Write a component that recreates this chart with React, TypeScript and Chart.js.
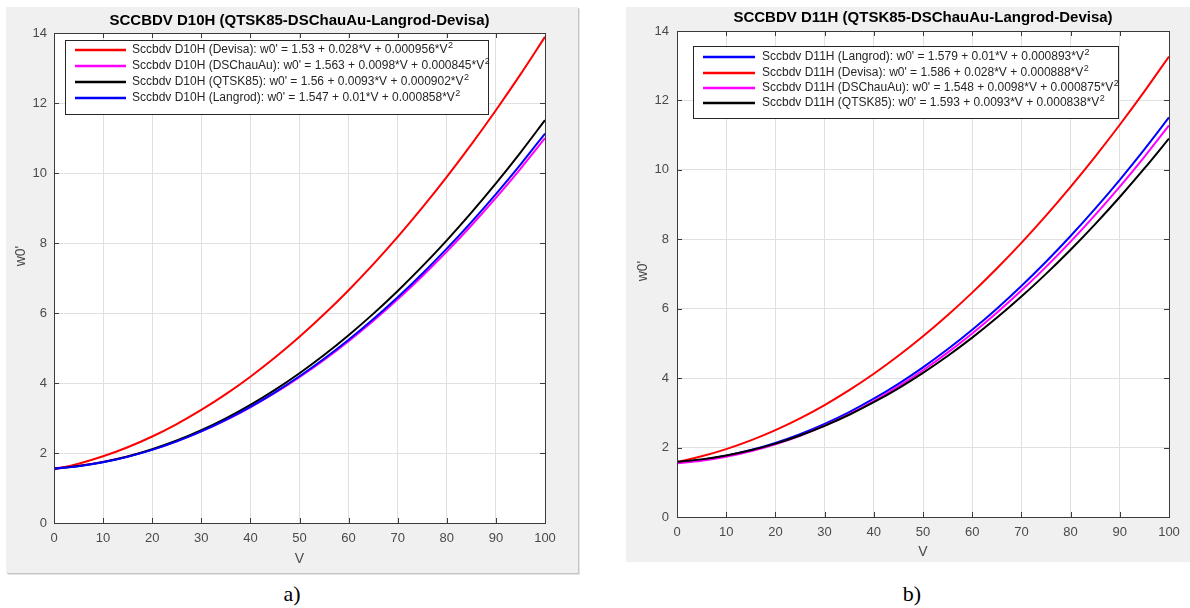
import React, { useEffect, useRef } from "react";
import { Chart, registerables } from "chart.js";

Chart.register(...registerables);

// ---------------- data ----------------
const V_VALUES = [0, 5, 10, 15, 20, 25, 30, 35, 40, 45, 50, 55, 60, 65, 70, 75, 80, 85, 90, 95, 100];
const X_TICKS = [0, 10, 20, 30, 40, 50, 60, 70, 80, 90, 100];
const Y_TICKS = [0, 2, 4, 6, 8, 10, 12, 14];

const D10H_DEVISA = [1.53, 1.694, 1.906, 2.165, 2.472, 2.828, 3.23, 3.681, 4.18, 4.726, 5.32, 5.962, 6.652, 7.389, 8.174, 9.008, 9.888, 10.817, 11.794, 12.818, 13.89];
const D10H_DSCHAUAU = [1.563, 1.633, 1.746, 1.9, 2.097, 2.336, 2.618, 2.941, 3.307, 3.715, 4.166, 4.658, 5.193, 5.77, 6.39, 7.051, 7.755, 8.501, 9.29, 10.12, 10.993];
const D10H_QTSK85 = [1.56, 1.629, 1.743, 1.902, 2.107, 2.356, 2.651, 2.99, 3.375, 3.805, 4.28, 4.8, 5.365, 5.975, 6.631, 7.331, 8.077, 8.867, 9.703, 10.584, 11.51];
const D10H_LANGROD = [1.547, 1.618, 1.733, 1.89, 2.09, 2.333, 2.619, 2.948, 3.32, 3.734, 4.192, 4.692, 5.236, 5.822, 6.451, 7.123, 7.838, 8.596, 9.397, 10.24, 11.127];

const D11H_LANGROD = [1.579, 1.651, 1.768, 1.93, 2.136, 2.387, 2.683, 3.023, 3.408, 3.837, 4.312, 4.83, 5.394, 6.002, 6.655, 7.352, 8.094, 8.881, 9.712, 10.588, 11.509];
const D11H_DEVISA = [1.586, 1.748, 1.955, 2.206, 2.501, 2.841, 3.225, 3.654, 4.127, 4.644, 5.206, 5.812, 6.463, 7.158, 7.897, 8.681, 9.509, 10.382, 11.299, 12.26, 13.266];
const D11H_DSCHAUAU = [1.548, 1.619, 1.734, 1.892, 2.094, 2.34, 2.63, 2.963, 3.34, 3.761, 4.226, 4.734, 5.286, 5.882, 6.522, 7.205, 7.932, 8.703, 9.518, 10.376, 11.278];
const D11H_QTSK85 = [1.593, 1.66, 1.77, 1.921, 2.114, 2.349, 2.626, 2.945, 3.306, 3.708, 4.153, 4.639, 5.168, 5.738, 6.35, 7.004, 7.7, 8.438, 9.218, 10.04, 10.903];

const D10H_LABELS = [
  "Sccbdv D10H (Devisa): w0' = 1.53 + 0.028*V + 0.000956*V²",
  "Sccbdv D10H (DSChauAu): w0' = 1.563 + 0.0098*V + 0.000845*V²",
  "Sccbdv D10H (QTSK85): w0' = 1.56 + 0.0093*V + 0.000902*V²",
  "Sccbdv D10H (Langrod): w0' = 1.547 + 0.01*V + 0.000858*V²",
];
const D11H_LABELS = [
  "Sccbdv D11H (Langrod): w0' = 1.579 + 0.01*V + 0.000893*V²",
  "Sccbdv D11H (Devisa): w0' = 1.586 + 0.028*V + 0.000888*V²",
  "Sccbdv D11H (DSChauAu): w0' = 1.548 + 0.0098*V + 0.000875*V²",
  "Sccbdv D11H (QTSK85): w0' = 1.593 + 0.0093*V + 0.000838*V²",
];

const TITLE_A = "SCCBDV D10H (QTSK85-DSChauAu-Langrod-Devisa)";
const TITLE_B = "SCCBDV D11H (QTSK85-DSChauAu-Langrod-Devisa)";
const X_TITLE = "V";
const Y_TITLE = "w0'";

// ---------------- styles ----------------
const FONT = "'Liberation Sans', Arial, Helvetica, sans-serif";
const RED = "#ff0000";
const MAGENTA = "#ff00ff";
const BLACK = "#000000";
const BLUE = "#0000ff";
const GRID = "#e0e0e0";
const TICK = "#4a4a4a";
const FRAME = "#3a3a3a";

const plotBackground = {
  id: "plotBackground",
  beforeDraw(chart: any) {
    const { ctx, chartArea: a } = chart;
    ctx.save();
    ctx.fillStyle = "#ffffff";
    ctx.fillRect(a.left, a.top, a.right - a.left, a.bottom - a.top);
    ctx.restore();
  },
};

const axesFrame = {
  id: "axesFrame",
  afterDatasetsDraw(chart: any) {
    const { ctx, chartArea: a, scales } = chart;
    const len = 5;
    ctx.save();
    ctx.strokeStyle = FRAME;
    ctx.lineWidth = 1;
    ctx.beginPath();
    scales.x.ticks.forEach((t: any) => {
      const px = Math.round(scales.x.getPixelForValue(t.value)) + 0.5;
      ctx.moveTo(px, a.bottom);
      ctx.lineTo(px, a.bottom - len);
      ctx.moveTo(px, a.top);
      ctx.lineTo(px, a.top + len);
    });
    scales.y.ticks.forEach((t: any) => {
      const py = Math.round(scales.y.getPixelForValue(t.value)) + 0.5;
      ctx.moveTo(a.left, py);
      ctx.lineTo(a.left + len, py);
      ctx.moveTo(a.right, py);
      ctx.lineTo(a.right - len, py);
    });
    ctx.stroke();
    ctx.strokeRect(
      Math.round(a.left) + 0.5,
      Math.round(a.top) + 0.5,
      Math.round(a.right - a.left),
      Math.round(a.bottom - a.top)
    );
    ctx.restore();
  },
};

const yAxisTitle = {
  id: "yAxisTitle",
  afterDraw(chart: any, _args: any, opts: any) {
    const { ctx } = chart;
    ctx.save();
    ctx.translate(opts.x, opts.y);
    ctx.rotate(-Math.PI / 2);
    ctx.font = `14px ${FONT}`;
    ctx.fillStyle = TICK;
    ctx.textAlign = "center";
    ctx.textBaseline = "middle";
    ctx.fillText(opts.text, 0, 0);
    ctx.restore();
  },
};

const boxLegend = {
  id: "boxLegend",
  afterDraw(chart: any, _args: any, opts: any) {
    const { ctx } = chart;
    const { x, y, w, h, rows, lineX1, lineX2, textX, fontSize } = opts;
    ctx.save();
    ctx.fillStyle = "#ffffff";
    ctx.fillRect(x, y, w, h);
    ctx.strokeStyle = "#262626";
    ctx.lineWidth = 1;
    ctx.strokeRect(x + 0.5, y + 0.5, w, h);
    chart.data.datasets.forEach((ds: any, i: number) => {
      const cy = rows[i];
      ctx.strokeStyle = ds.borderColor;
      ctx.lineWidth = 2.5;
      ctx.beginPath();
      ctx.moveTo(lineX1, cy);
      ctx.lineTo(lineX2, cy);
      ctx.stroke();
      let text: string = ds.label;
      let sup = "";
      if (text.endsWith("²")) {
        text = text.slice(0, -1);
        sup = "2";
      }
      ctx.font = `${fontSize}px ${FONT}`;
      ctx.fillStyle = "#262626";
      ctx.textBaseline = "middle";
      ctx.textAlign = "left";
      ctx.fillText(text, textX, cy);
      if (sup) {
        const tw = ctx.measureText(text).width;
        ctx.font = `${Math.round(fontSize * 0.75)}px ${FONT}`;
        ctx.fillText(sup, textX + tw + 0.5, cy - fontSize * 0.4);
      }
    });
    ctx.restore();
  },
};

type Series = { label: string; values: number[]; color: string };

type Geometry = {
  left: number;
  top: number;
  width: number;
  height: number;
  titlePad: { top: number; bottom: number };
  yAxisWidth: number;
  xAxisHeight: number;
  padRight: number;
  yTickPad: number;
  xTickPad: number;
  yTitlePos: { x: number; y: number };
  xTitlePadBottom: number;
  legend: any;
  border: boolean;
};

function PlotPanel({ title, series, g }: { title: string; series: Series[]; g: Geometry }) {
  const ref = useRef<HTMLCanvasElement | null>(null);

  useEffect(() => {
    if (!ref.current) return;
    const chart = new Chart(ref.current, {
      type: "line",
      data: {
        datasets: series.map((s, i) => ({
          label: s.label,
          data: V_VALUES.map((v, k) => ({ x: v, y: s.values[k] })),
          borderColor: s.color,
          backgroundColor: s.color,
          borderWidth: 2,
          pointRadius: 0,
          cubicInterpolationMode: "monotone",
          fill: false,
          order: series.length - i,
        })),
      },
      options: {
        responsive: false,
        maintainAspectRatio: false,
        animation: false,
        events: [],
        layout: { padding: { top: 0, left: 0, right: g.padRight, bottom: 0 } },
        plugins: {
          legend: { display: false },
          tooltip: { enabled: false },
          title: {
            display: true,
            text: title,
            fullSize: false,
            color: "#000000",
            font: { family: FONT, size: 15, weight: "bold" },
            padding: g.titlePad,
          },
          boxLegend: g.legend,
          yAxisTitle: { text: Y_TITLE, x: g.yTitlePos.x, y: g.yTitlePos.y },
        } as any,
        scales: {
          x: {
            type: "linear",
            min: 0,
            max: 100,
            afterBuildTicks: (s: any) => {
              s.ticks = X_TICKS.map((v) => ({ value: v }));
            },
            afterFit: (s: any) => {
              s.height = g.xAxisHeight;
            },
            grid: { color: GRID, drawTicks: false },
            border: { display: false },
            ticks: {
              padding: g.xTickPad,
              color: TICK,
              font: { family: FONT, size: 13 },
              maxRotation: 0,
              autoSkip: false,
            },
            title: {
              display: true,
              text: X_TITLE,
              color: TICK,
              font: { family: FONT, size: 14 },
              padding: { top: 0, bottom: g.xTitlePadBottom },
            },
          },
          y: {
            type: "linear",
            min: 0,
            max: 14,
            afterBuildTicks: (s: any) => {
              s.ticks = Y_TICKS.map((v) => ({ value: v }));
            },
            afterFit: (s: any) => {
              s.width = g.yAxisWidth;
            },
            grid: { color: GRID, drawTicks: false },
            border: { display: false },
            ticks: {
              padding: g.yTickPad,
              color: TICK,
              font: { family: FONT, size: 13 },
              autoSkip: false,
            },
          },
        },
      } as any,
      plugins: [plotBackground, axesFrame, yAxisTitle, boxLegend],
    });
    return () => chart.destroy();
  }, []);

  return (
    <div
      style={{
        position: "absolute",
        left: g.left,
        top: g.top,
        width: g.width,
        height: g.height,
        background: "#f0f0f0",
        boxShadow: g.border ? "1px 1px 0 #c4c4c4, 2px 2px 0 #e6e6e6" : "none",
      }}
    >
      <canvas ref={ref} width={g.width} height={g.height} style={{ display: "block", width: g.width, height: g.height }} />
    </div>
  );
}

const GEOM_A: Geometry = {
  left: 6,
  top: 7,
  width: 572,
  height: 566,
  titlePad: { top: 4.5, bottom: 3.5 },
  yAxisWidth: 48,
  xAxisHeight: 50,
  padRight: 33,
  yTickPad: 7,
  xTickPad: 8,
  yTitlePos: { x: 15, y: 249 },
  xTitlePadBottom: 5.6,
  legend: { x: 59, y: 33, w: 423, h: 74, rows: [43, 59, 75, 91], lineX1: 69, lineX2: 120, textX: 126, fontSize: 12 },
  border: true,
};

const GEOM_B: Geometry = {
  left: 626,
  top: 7,
  width: 564,
  height: 555,
  titlePad: { top: 2.3, bottom: 3.7 },
  yAxisWidth: 51,
  xAxisHeight: 45,
  padRight: 21,
  yTickPad: 8,
  xTickPad: 8,
  yTitlePos: { x: 17, y: 264 },
  xTitlePadBottom: 1.6,
  legend: { x: 67, y: 39, w: 425, h: 72, rows: [50, 66, 81, 96], lineX1: 77, lineX2: 129, textX: 136, fontSize: 12 },
  border: false,
};

export default function App() {
  const seriesA: Series[] = [
    { label: D10H_LABELS[0], values: D10H_DEVISA, color: RED },
    { label: D10H_LABELS[1], values: D10H_DSCHAUAU, color: MAGENTA },
    { label: D10H_LABELS[2], values: D10H_QTSK85, color: BLACK },
    { label: D10H_LABELS[3], values: D10H_LANGROD, color: BLUE },
  ];
  const seriesB: Series[] = [
    { label: D11H_LABELS[0], values: D11H_LANGROD, color: BLUE },
    { label: D11H_LABELS[1], values: D11H_DEVISA, color: RED },
    { label: D11H_LABELS[2], values: D11H_DSCHAUAU, color: MAGENTA },
    { label: D11H_LABELS[3], values: D11H_QTSK85, color: BLACK },
  ];
  const caption: React.CSSProperties = {
    position: "absolute",
    top: 581,
    fontFamily: "'Liberation Serif', 'Times New Roman', serif",
    fontSize: 22,
    lineHeight: "26px",
    textAlign: "center",
    color: "#000",
  };
  return (
    <div style={{ position: "absolute", left: 0, top: 0, width: 1190, height: 608, background: "#ffffff", overflow: "hidden" }}>
      <PlotPanel title={TITLE_A} series={seriesA} g={GEOM_A} />
      <PlotPanel title={TITLE_B} series={seriesB} g={GEOM_B} />
      <div style={{ ...caption, left: 242, width: 100 }}>a)</div>
      <div style={{ ...caption, left: 862, width: 100 }}>b)</div>
    </div>
  );
}
